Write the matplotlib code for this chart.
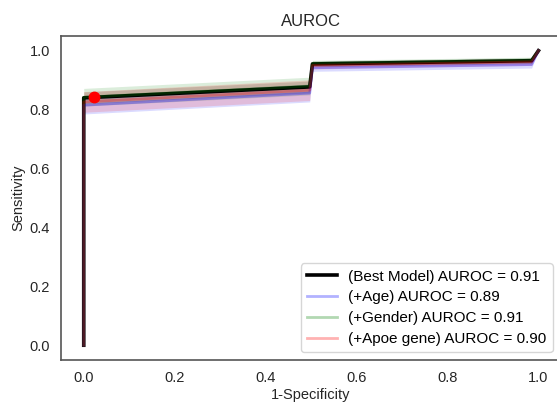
import matplotlib
matplotlib.use("Agg")
import matplotlib.pyplot as plt
import numpy as np

plt.rcParams['font.family'] = ['Liberation Sans', 'DejaVu Sans']

fpr = [0.0, 0.0, 0.497, 0.503, 0.985, 1.0]

best_tpr = [0.0, 0.840, 0.877, 0.955, 0.966, 1.0]
best_std = [0.0, 0.02, 0.02, 0.01, 0.01, 0.0]

age_tpr = [0.0, 0.815, 0.856, 0.942, 0.953, 1.0]
age_std = [0.0, 0.03, 0.03, 0.012, 0.012, 0.0]

gender_tpr = [0.0, 0.842, 0.880, 0.957, 0.968, 1.0]
gender_std = [0.0, 0.03, 0.03, 0.01, 0.01, 0.0]

apoe_tpr = [0.0, 0.826, 0.866, 0.950, 0.962, 1.0]
apoe_std = [0.0, 0.035, 0.035, 0.012, 0.012, 0.0]

labels = ["(Best Model) AUROC = 0.91", "(+Age) AUROC = 0.89",
          "(+Gender) AUROC = 0.91", "(+Apoe gene) AUROC = 0.90"]

opt_point = (0.022, 0.844)

fig = plt.figure(figsize=(5.57, 4.04), dpi=100)
ax = fig.add_axes([0.1095, 0.109, 0.898, 0.802])

series = [
    (best_tpr, best_std, 'black', 1.0, 2.6),
    (age_tpr, age_std, 'blue', 0.3, 2.0),
    (gender_tpr, gender_std, 'green', 0.3, 2.0),
    (apoe_tpr, apoe_std, 'red', 0.3, 2.0),
]
x = np.array(fpr)
for (tpr, std, col, a, lw), lab in zip(series, labels):
    t = np.array(tpr); s = np.array(std)
    ax.plot(x, t, color=col, alpha=a, lw=lw, label=lab)
    ax.fill_between(x, np.maximum(t - s, 0), np.minimum(t + s, 1), color=col, alpha=0.14, lw=0)

ax.plot([opt_point[0]], [opt_point[1]], 'o', color='red', markersize=7.5, zorder=5)

ax.set_xlim(-0.05, 1.05)
ax.set_ylim(-0.05, 1.05)
ax.set_xticks([0.0, 0.2, 0.4, 0.6, 0.8, 1.0])
ax.set_yticks([0.0, 0.2, 0.4, 0.6, 0.8, 1.0])
ax.tick_params(length=0, labelsize=10.5, pad=8, colors='#262626')
for sp in ax.spines.values():
    sp.set_color('#555555')
    sp.set_linewidth(1.2)
ax.set_xlabel("1-Specificity", fontsize=10.5, labelpad=2, color='#262626')
ax.set_ylabel("Sensitivity", fontsize=10.5, labelpad=3, color='#262626')
ax.set_title("AUROC", fontsize=12, pad=7, color='#262626')
leg = ax.legend(loc='lower right', fontsize=11, frameon=True, borderpad=0.4,
                handlelength=2.0, handletextpad=0.7, labelspacing=0.45,
                bbox_to_anchor=(0.998, 0.0))
leg.get_frame().set_edgecolor('#cccccc')

fig.savefig("out.png", dpi=100)
